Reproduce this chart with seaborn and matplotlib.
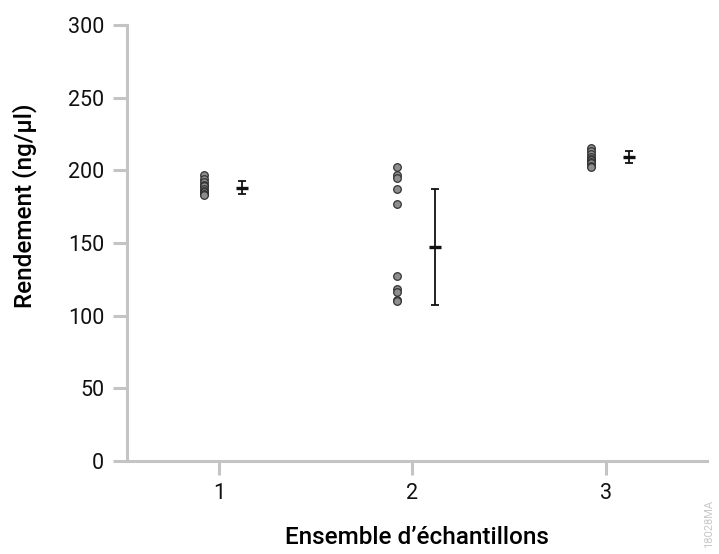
import numpy as np
import pandas as pd
import matplotlib
matplotlib.use("Agg")
import matplotlib.pyplot as plt
import seaborn as sns

# ---- data ----
groups = [1, 2, 3]
set1 = [197, 194, 192, 190, 189, 187, 186, 185, 184, 183]
set2 = [202, 197, 195, 187, 177, 127, 118, 116, 111, 110]
set3 = [215, 213, 211, 209, 208, 207, 206, 205, 203, 202]
summary_mean = [188, 147, 209]
summary_err = [4.3, 40, 4.3]
yticks = [0, 50, 100, 150, 200, 250, 300]
xlabel = "Ensemble d\u2019\u00e9chantillons"
ylabel = "Rendement (ng/\u00b5l)"

df = pd.DataFrame({
    "group": np.repeat(groups, [len(set1), len(set2), len(set3)]),
    "value": set1 + set2 + set3,
})
df["xpos"] = df["group"] - 0.078

sns.set_theme(style="white")
plt.rcParams["font.family"] = ["Roboto", "DejaVu Sans"]

fig = plt.figure(figsize=(7.19, 5.54), dpi=100)
ax = fig.add_axes([0.176, 0.168, 0.807, 0.787])

sns.scatterplot(data=df, x="xpos", y="value", ax=ax, color="#8e8e8e",
                edgecolor="#333333", linewidth=0.9, s=30, zorder=3, legend=False)

ax.errorbar(np.array(groups) + 0.117, summary_mean, yerr=summary_err,
            fmt="none", ecolor="#111111", elinewidth=1.3, capsize=3,
            capthick=1.3, zorder=3)
ax.plot(np.array(groups) + 0.117, summary_mean, linestyle="none",
        marker="_", markersize=8.5, markeredgewidth=2.4, color="#111111", zorder=4)

ax.set_xlim(0.523, 3.52)
ax.set_ylim(0, 300)
ax.set_xticks(groups)
ax.set_xticklabels([str(g) for g in groups])
ax.set_yticks(yticks)

for side in ["top", "right"]:
    ax.spines[side].set_visible(False)
for side in ["left", "bottom"]:
    ax.spines[side].set_color("#c4c4c4")
    ax.spines[side].set_linewidth(2.2)

ax.tick_params(axis="both", which="major", length=10, width=2.2,
               color="#c4c4c4", labelsize=15.5, labelcolor="#111111",
               direction="out", pad=6, left=True, bottom=True)

ax.set_xlabel(xlabel, fontsize=17.5, fontweight="medium", color="#000000", labelpad=16)
ax.set_ylabel(ylabel, fontsize=17.5, fontweight="medium", color="#000000")
ax.yaxis.set_label_coords(-0.155, 0.585)

fig.text(0.986, 0.01, "18028MA", rotation=90, fontsize=8, color="#c8c8c8",
         ha="center", va="bottom")

fig.savefig("out.png", dpi=100)
